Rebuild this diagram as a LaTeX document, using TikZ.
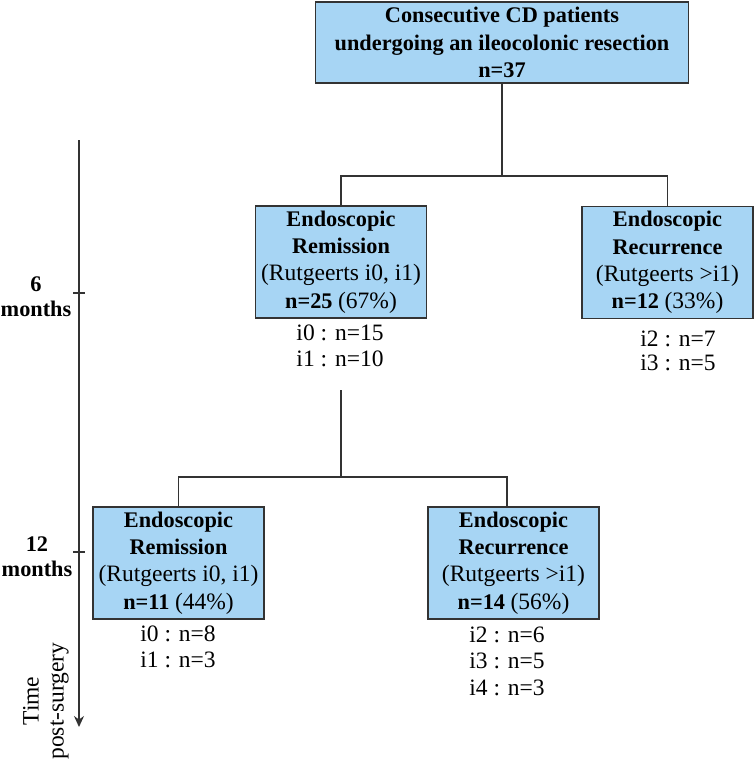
\documentclass[tikz,border=0pt]{standalone}
\usepackage{fontspec}
\setmainfont{Liberation Serif}
\usetikzlibrary{arrows.meta}
\definecolor{boxblue}{HTML}{A7D5F4}
\definecolor{edgegray}{HTML}{333333}
\newcommand{\myrg}[1]{{\fontsize{23.5}{27.3}\selectfont\mdseries #1}}
\tikzset{
  box/.style={draw=edgegray, fill=boxblue, line width=1.3pt, minimum width=171pt,
    minimum height=112pt, inner sep=0pt, align=center, text=black,
    font=\fontsize{22.3}{27.3}\selectfont},
  note/.style={align=center, inner sep=0pt, text=black,
    font=\fontsize{23.5}{26.5}\selectfont},
  lab/.style={align=center, inner sep=0pt, text=black,
    font=\fontsize{22.3}{25}\selectfont\bfseries},
  link/.style={draw=edgegray, line width=1.3pt},
}
\begin{document}
\begin{tikzpicture}[x=1pt, y=-1pt]
\useasboundingbox (0,0) rectangle (754,760);
% boxes
\node[box, minimum width=373pt, minimum height=81pt, font=\fontsize{22.3}{27.3}\selectfont\bfseries] (top) at (502,42.5)
  {Consecutive CD patients\\ undergoing an ileocolonic resection\\ n=37};
\node[box] (er6) at (341,262)
  {\textbf{Endoscopic}\\ \textbf{Remission}\\ \myrg{(Rutgeerts i0, i1)}\\ \textbf{n=25} \myrg{(67\%)}};
\node[box] (ec6) at (667.5,262.5)
  {\textbf{Endoscopic}\\ \textbf{Recurrence}\\ \myrg{(Rutgeerts >i1)}\\ \textbf{n=12} \myrg{(33\%)}};
\node[box] (er12) at (178.5,563)
  {\textbf{Endoscopic}\\ \textbf{Remission}\\ \myrg{(Rutgeerts i0, i1)}\\ \textbf{n=11} \myrg{(44\%)}};
\node[box] (ec12) at (513.5,563)
  {\textbf{Endoscopic}\\ \textbf{Recurrence}\\ \myrg{(Rutgeerts >i1)}\\ \textbf{n=14} \myrg{(56\%)}};
% sub notes
\node[note] (s1) at (340,346) {i0 : n=15\\ i1 : n=10};
\node[note, font=\fontsize{23.5}{24.5}\selectfont] (s2) at (678,351) {i2 : n=7\\ i3 : n=5};
\node[note] (s3) at (178,647) {i0 : n=8\\ i1 : n=3};
\node[note] (s4) at (507,661) {i2 : n=6\\ i3 : n=5\\ i4 : n=3};
% connectors
\coordinate (j1) at (502,176);
\draw[link] (top.south) -- (j1);
\draw[link] (er6.north) |- (j1) -| (ec6.north);
\coordinate (j2a) at (341,390);
\coordinate (j2) at (341,477);
\coordinate (brtop) at (507,507);
\draw[link] (j2a) -- (j2);
\draw[link] (er12.north) |- (j2) -| (brtop);
% time axis
\coordinate (ax0) at (79,140);
\coordinate (ax1) at (79,727);
\draw[draw=edgegray, line width=1.5pt, -{Stealth[length=11pt, width=10pt]}] (ax0) -- (ax1);
\coordinate (t6) at (79,293);
\coordinate (t12) at (79,552);
\draw[link] ([xshift=-6pt]t6) -- ([xshift=6pt]t6);
\draw[link] ([xshift=-6pt]t12) -- ([xshift=6pt]t12);
\node[lab] (m6) at (36,297) {6\\ months};
\node[lab] (m12) at (37,557) {12\\ months};
\node[note, rotate=90, font=\fontsize{23.5}{25}\selectfont] (time) at (46,701) {Time\\ post-surgery};
\end{tikzpicture}
\end{document}
